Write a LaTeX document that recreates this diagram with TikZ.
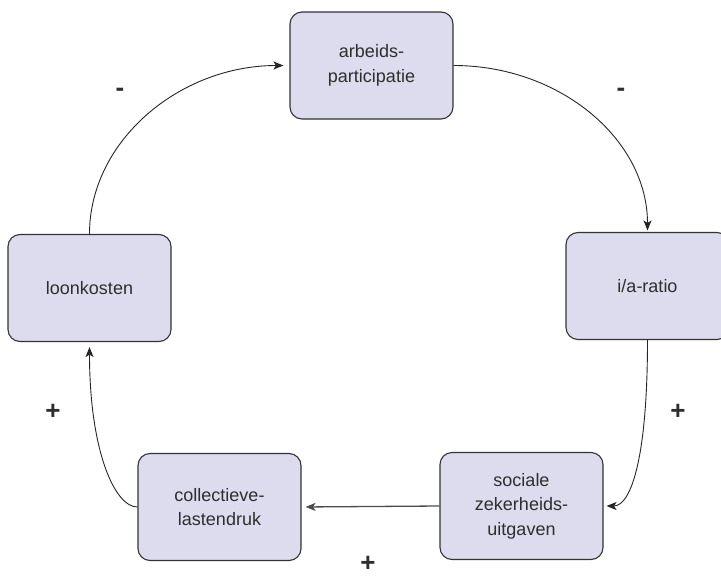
\documentclass[tikz,border=0pt]{standalone}
\usepackage{fontspec}
\setmainfont{Liberation Sans}
\usetikzlibrary{arrows.meta}
\definecolor{boxfill}{HTML}{DCDCEE}
\definecolor{boxline}{HTML}{333333}
\definecolor{txt}{HTML}{2E2E2E}
\tikzset{
  factor/.style={draw=boxline, line width=1.1pt, fill=boxfill, rounded corners=12pt,
    minimum width=163pt, minimum height=107pt, inner sep=0pt, align=center,
    text=txt, font=\fontsize{18pt}{24.5pt}\selectfont},
  link/.style={draw=black!85, line width=0.9pt, -{Stealth[length=10pt,width=8pt,inset=2.5pt]}},
  sign/.style={text=txt, font=\fontsize{26pt}{26pt}\selectfont\bfseries, inner sep=0pt}
}
\begin{document}
\begin{tikzpicture}[x=1pt,y=-1pt]
\clip (0,0) rectangle (721,579);
\node[factor] (ap) at (371.5,65.5) {arbeids-\\participatie};
\node[factor] (lk) at (89.5,288) {loonkosten};
\node[factor] (ia) at (647.5,286) {i/a-ratio};
\node[factor] (sz) at (521.5,506) {sociale\\zekerheids-\\uitgaven};
\node[factor] (cl) at (219.5,507) {collectieve-\\lastendruk};

\draw[link, shorten >=6pt] (lk.north) .. controls +(0,-93) and +(-110,0) .. (ap.west);
\draw[link, shorten >=1.5pt] (ap.east) .. controls +(107,0) and +(0,-92) .. (ia.north);
\draw[link, shorten >=3pt] (ia.south) .. controls +(0,120) and +(27,0) .. (sz.east);
\draw[link, shorten >=4pt, line width=1.3pt, draw=black!70] (sz.west) -- (cl.east);
\draw[link, shorten >=5pt] (cl.west) .. controls +(-23,0) and +(0,108) .. (lk.south);

\node[sign] (s1) at (120,92) {-};
\node[sign] (s2) at (621,92) {-};
\node[sign] (s3) at (53,412) {+};
\node[sign] (s4) at (678,412) {+};
\node[sign] (s5) at (368,564) {+};
\end{tikzpicture}
\end{document}
